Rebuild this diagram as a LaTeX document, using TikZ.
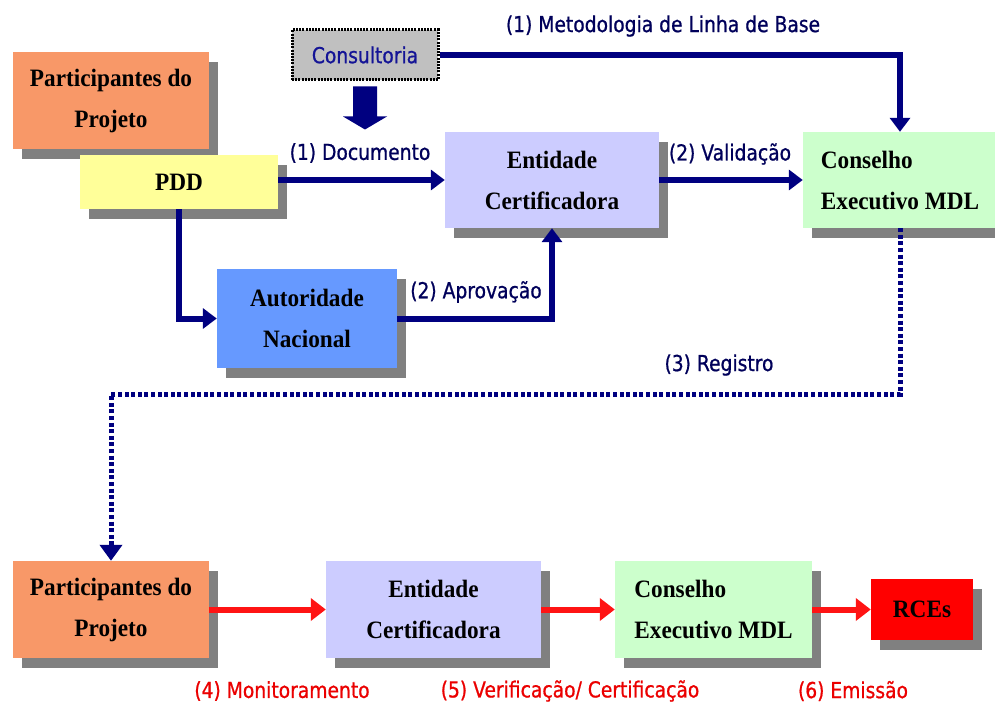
\documentclass[tikz,border=0pt]{standalone}
\usepackage{fontspec}
\setmainfont{Liberation Serif}
\newfontfamily\boxfont{Liberation Serif}[FakeStretch=0.93]
\newfontfamily\labfont{DejaVu Sans}[FakeStretch=0.85,FakeBold=0.8]
\usetikzlibrary{arrows.meta,shadows}
\definecolor{orangebox}{RGB}{248,152,104}
\definecolor{yellowbox}{RGB}{255,255,153}
\definecolor{lavbox}{RGB}{204,204,255}
\definecolor{greenbox}{RGB}{204,255,204}
\definecolor{bluebox}{RGB}{102,153,255}
\definecolor{rcebox}{RGB}{255,0,0}
\definecolor{shgray}{RGB}{128,128,128}
\definecolor{consgray}{RGB}{192,192,192}
\definecolor{navy}{RGB}{0,0,128}
\definecolor{labnavy}{RGB}{0,0,90}
\definecolor{consblue}{RGB}{20,20,150}
\definecolor{redarrow}{RGB}{255,20,20}
\definecolor{labred}{RGB}{235,0,0}
\begin{document}
\begin{tikzpicture}[x=1pt,y=-1pt,
  boxstyle/.style={inner sep=0pt, align=center, text=black,
    font=\boxfont\bfseries\fontsize{25}{41}\selectfont,
    drop shadow={shadow xshift=9pt,shadow yshift=-10pt,fill=shgray,opacity=1}},
  consstyle/.style={inner sep=0pt, fill=consgray, draw=black, line width=3pt,
    dash pattern=on 2pt off 1.2pt, text=consblue,
    font=\labfont\fontsize{22}{26}\selectfont},
  navyarr/.style={draw=navy, line width=6pt, -{Triangle[length=14pt,width=20pt]}},
  redarr/.style={draw=redarrow, line width=6pt, -{Triangle[length=15pt,width=22pt]}},
  dotarr/.style={draw=navy, line width=5pt, dash pattern=on 4pt off 2.6pt,
    -{Triangle[length=16pt,width=22pt]}},
  lab/.style={inner sep=0pt, text=labnavy, font=\labfont\fontsize{22}{26}\selectfont},
  redlab/.style={lab, text=labred}]
\useasboundingbox (0,0) rectangle (995,703);
\fill[white] (0,0) rectangle (995,703);

% top row boxes
\node[boxstyle, fill=orangebox, minimum width=196pt, minimum height=97pt] (p1) at (111,100.5) {Participantes do\\Projeto};
\node[boxstyle, fill=yellowbox, minimum width=198pt, minimum height=54pt] (pdd) at (179,182) {PDD};
\node[consstyle, minimum width=146pt, minimum height=50pt] (cons) at (365,55) {Consultoria};
\node[boxstyle, fill=lavbox, minimum width=214pt, minimum height=96pt] (ent1) at (552,180) {Entidade\\Certificadora};
\node[boxstyle, fill=greenbox, align=left, minimum width=194pt, minimum height=96pt] (cex1) at (900,180) {Conselho\\Executivo MDL};
\node[boxstyle, fill=bluebox, minimum width=180pt, minimum height=99pt] (aut) at (307,318.5) {Autoridade\\Nacional};

% bottom row boxes
\node[boxstyle, fill=orangebox, minimum width=196pt, minimum height=97pt] (p2) at (111,609.5) {Participantes do\\Projeto};
\node[boxstyle, fill=lavbox, minimum width=215pt, minimum height=97pt] (ent2) at (433.5,609.5) {Entidade\\Certificadora};
\node[boxstyle, fill=greenbox, align=left, minimum width=197pt, minimum height=97pt] (cex2) at (713.5,609.5) {Conselho\\Executivo MDL};
\node[boxstyle, fill=rcebox, minimum width=102pt, minimum height=61pt] (rce) at (922,609.5) {RCEs};

% block arrow below Consultoria
\fill[navy, shift={(cons.south)}] (-12,5) -- (12,5) -- (12,35) -- (22,35) -- (0,48) -- (-22,35) -- (-12,35) -- cycle;

% connectors
\draw[navyarr] (cons.east) -| (cex1.north);
\draw[navyarr] (pdd.east |- ent1.west) -- (ent1.west);
\draw[navyarr] (pdd.south) |- (aut.west);
\draw[navyarr] (aut.east) -| (ent1.south);
\draw[navyarr] (ent1.east) -- (cex1.west);
\coordinate (regc) at (900,394);
\draw[dotarr] (cex1.south) -- (cex1.south |- regc) -| (p2.north);
\draw[redarr] (p2.east) -- (ent2.west);
\draw[redarr] (ent2.east) -- (cex2.west);
\draw[redarr] (cex2.east) -- (rce.west);

% labels
\node[lab] (lmet) at (663,26) {(1) Metodologia de Linha de Base};
\node[lab] (ldoc) at (360,153) {(1) Documento};
\node[lab] (lval) at (730,154) {(2) Validação};
\node[lab] (lapr) at (476,292) {(2) Aprovação};
\node[lab] (lreg) at (719,365) {(3) Registro};
\node[redlab] (lmon) at (282,691) {(4) Monitoramento};
\node[redlab] (lver) at (570,691) {(5) Verificação/ Certificação};
\node[redlab] (lemi) at (853,691) {(6) Emissão};
\end{tikzpicture}
\end{document}
